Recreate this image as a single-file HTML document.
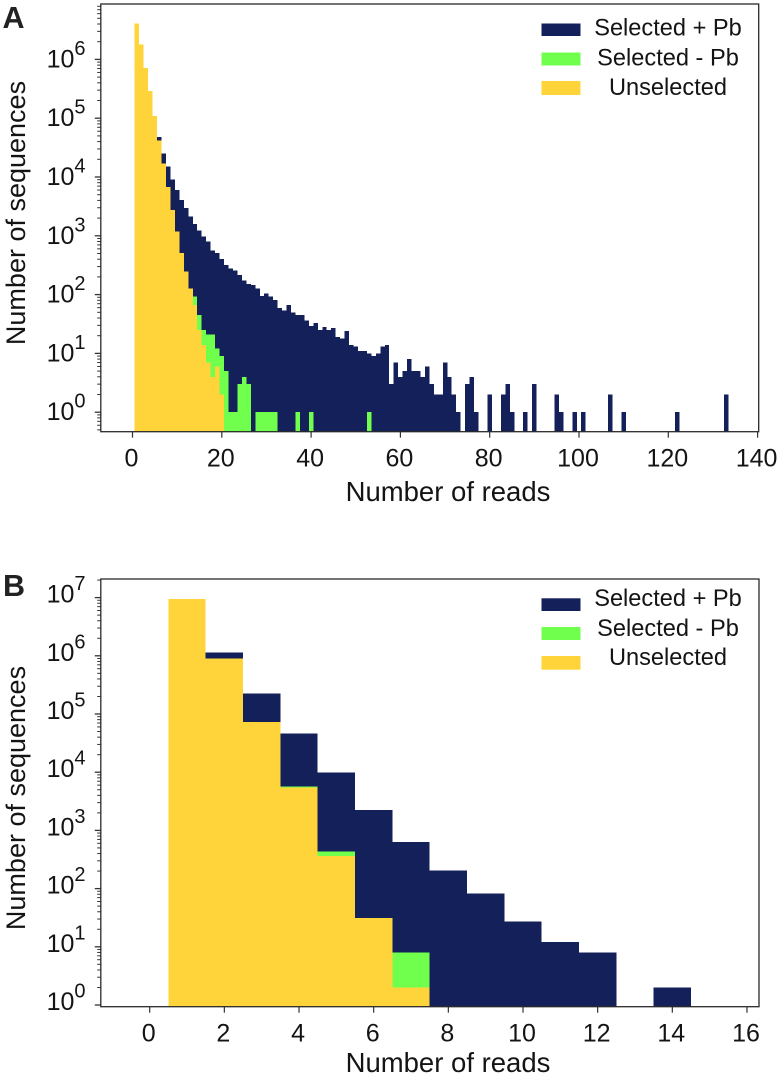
<!DOCTYPE html>
<html lang="en">
<head>
<meta charset="utf-8">
<title>Number of sequences vs number of reads</title>
<style>
html,body{margin:0;padding:0;background:#fff;width:777px;height:1076px;overflow:hidden}
svg{display:block;font-family:"Liberation Sans",Arial,sans-serif;fill:#141414}
</style>
</head>
<body>
<svg id="figure" width="777" height="1076" viewBox="0 0 777 1076" xmlns="http://www.w3.org/2000/svg">
  <rect x="0" y="0" width="777" height="1076" fill="#fff"/>
  <g id="panel-a"></g>
  <g id="panel-b"></g>

  <text x="2.5" y="28" font-size="30.5" font-weight="bold" fill="#222">A</text>
  <text x="3" y="596" font-size="30.5" font-weight="bold" fill="#222">B</text>

  <text transform="translate(25 213) rotate(-90)" text-anchor="middle" font-size="27">Number of sequences</text>
  <text transform="translate(25 798) rotate(-90)" text-anchor="middle" font-size="27">Number of sequences</text>
  <text x="448" y="501" text-anchor="middle" font-size="27.5">Number of reads</text>
  <text x="448" y="1072" text-anchor="middle" font-size="27.5">Number of reads</text>

  <g>
    <g>
      <rect x="541.5" y="23.5" width="39" height="12.5" fill="#14205a"/>
      <text x="668" y="35.7" text-anchor="middle" font-size="23.6">Selected + Pb</text>
    </g>
    <g>
      <rect x="541.5" y="52.5" width="39" height="13" fill="#70ff4c"/>
      <text x="668" y="65.7" text-anchor="middle" font-size="23.6">Selected - Pb</text>
    </g>
    <g>
      <rect x="541.5" y="81" width="39" height="14" fill="#ffd43a"/>
      <text x="668" y="95" text-anchor="middle" font-size="23.6">Unselected</text>
    </g>
  </g>

  <g>
    <g>
      <rect x="541.5" y="598.3" width="39" height="12.7" fill="#14205a"/>
      <text x="668" y="606" text-anchor="middle" font-size="23.6">Selected + Pb</text>
    </g>
    <g>
      <rect x="541.5" y="627" width="39" height="13" fill="#70ff4c"/>
      <text x="668" y="636" text-anchor="middle" font-size="23.6">Selected - Pb</text>
    </g>
    <g>
      <rect x="541.5" y="656" width="39" height="13.7" fill="#ffd43a"/>
      <text x="668" y="665" text-anchor="middle" font-size="23.6">Unselected</text>
    </g>
  </g>
</svg>

<script>
// Panel A: counts per read bin; first entry is the bin for 1 read
const selectedPlusA = [4050000,1800000,720000,290000,110000,48000,25000,15000,9100,6000,4050,2960,2110,1590,1220,966,794,560,505,400,
319,280,256,216,173,152,145,128,95,105,93,81,59,54,67,50,45,
45,36,29,33,25,28,25,27,19,18,24,14,13,11,11,10,9,10,13,14,3,7,4,5,8,5,5,4,6,3,2,2,7,4,2,1,
0,3,4,1,0,0,2,0,0,2,3,1,0,0,1,0,3,0,0,0,0,2,1,0,0,1,0,1,0,0,0,0,0,2,0,0,1,
0,0,0,0,0,0,0,0,0,0,0,1,0,0,0,0,0,0,0,0,0,0,2];
const selectedMinusA = [0,0,0,0,0,0,0,0,0,0,0,0,0,92,45,25,21,21,12,9,5,1,1,3,4,3,0,1,1,1,1,1,0,0,0,0,1,0,0,1,0,0,0,0,0,0,0,0,0,0,0,0,1];
const unselectedA = [4050000,1800000,720000,290000,110000,42000,17000,6800,2740,1175,505,246,128,67,25,14,7,4,6,2];
const xTickLabelsA = [0,20,40,60,80,100,120,140];
const yExponentsA = [0,1,2,3,4,5,6];

// Panel B: counts per read bin; first entry is the bin for 1 read
const selectedPlusB = [9460000,1130000,227000,46600,9950,2240,631,203,83,27,12,8,0,2];
const selectedMinusB = [0,0,0,5700,430,0,8];
const unselectedB = [9460000,906000,73000,5500,363,31,2];
const xTickLabelsB = [0,2,4,6,8,10,12,14,16];
const yExponentsB = [0,1,2,3,4,5,6,7];

const NS = 'http://www.w3.org/2000/svg';
const NAVY = '#14205a', GREEN = '#70ff4c', YELLOW = '#ffd43a';

function make(parent, tag, attrs) {
  const el = document.createElementNS(NS, tag);
  for (const k in attrs) el.setAttribute(k, attrs[k]);
  parent.appendChild(el);
  return el;
}

function drawSeries(g, values, color, name, xs, ys, baseY) {
  values.forEach(function (v, i) {
    if (v <= 0) return;
    const bin = i + 1;
    const x0 = xs(bin - 0.5), x1 = xs(bin + 0.5), yTop = ys(v);
    const r = make(g, 'rect', {x: x0, y: yTop, width: x1 - x0, height: baseY - yTop, fill: color, 'shape-rendering': 'crispEdges'});
    
    
  });
}

function drawPanel(g, cfg) {
  const xs = function (v) { return cfg.x0 + v * cfg.xUnit; };
  const ys = function (v) { return cfg.y1 - Math.log10(v) * cfg.decade; };

  drawSeries(g, cfg.plus, NAVY, 'bar-selected-plus-pb', xs, ys, cfg.bottom);
  drawSeries(g, cfg.minus, GREEN, 'bar-selected-minus-pb', xs, ys, cfg.bottom);
  drawSeries(g, cfg.un, YELLOW, 'bar-unselected', xs, ys, cfg.bottom);

  // y ticks (major and log minor)
  for (let e = -1; e <= cfg.yExp[cfg.yExp.length - 1] + 1; e++) {
    for (let m = 1; m <= 9; m++) {
      const v = m * Math.pow(10, e);
      const y = ys(v);
      if (y < cfg.top || y > cfg.bottom) continue;
      const major = m === 1;
      const t = make(g, 'line', {x1: cfg.left - (major ? 6 : 3.6), x2: cfg.left, y1: y, y2: y, stroke: '#333', 'stroke-width': major ? 1.3 : 1});
      
      
    }
  }
  // y labels
  cfg.yExp.forEach(function (e) {
    const y = ys(Math.pow(10, e));
    const label = make(g, 'text', {x: 85.5, y: y + cfg.labelDy, 'text-anchor': 'end', 'font-size': 25});
    
    
    label.appendChild(document.createTextNode('10'));
    const sup = make(label, 'tspan', {'font-size': 20, dy: -12.5});
    sup.textContent = String(e);
  });
  // x ticks and labels
  cfg.xLabels.forEach(function (v) {
    const x = xs(v);
    const t = make(g, 'line', {x1: x, x2: x, y1: cfg.bottom, y2: cfg.bottom + 6, stroke: '#333', 'stroke-width': 1.2});
    
    
    const label = make(g, 'text', {x: x - 1, y: cfg.bottom + 35, 'text-anchor': 'middle', 'font-size': 25});
    
    
    label.textContent = String(v);
  });
  // frame
  const frame = make(g, 'rect', {x: cfg.left, y: cfg.top, width: cfg.right - cfg.left, height: cfg.bottom - cfg.top, fill: 'none', stroke: '#2a2a2a', 'stroke-width': 1.3});
  
  
}

drawPanel(document.getElementById('panel-a'), {
  plus: selectedPlusA, minus: selectedMinusA, un: unselectedA,
  xLabels: xTickLabelsA, yExp: yExponentsA,
  left: 100.8, right: 758.7, top: 4, bottom: 431.7,
  x0: 132.5, xUnit: 4.465, y1: 412.2, decade: 58.8, labelDy: 8
});
drawPanel(document.getElementById('panel-b'), {
  plus: selectedPlusB, minus: selectedMinusB, un: unselectedB,
  xLabels: xTickLabelsB, yExp: yExponentsB,
  left: 100.8, right: 759, top: 579, bottom: 1006.7,
  x0: 149.7, xUnit: 37.33, y1: 1005, decade: 58.2, labelDy: 5
});
</script>
</body>
</html>
